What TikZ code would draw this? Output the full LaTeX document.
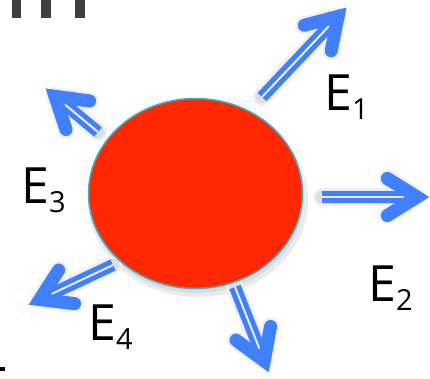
\documentclass[tikz,border=0pt]{standalone}
\usepackage{fontspec}
\setmainfont{Open Sans}
\usetikzlibrary{calc,shapes.geometric}
\definecolor{raybl}{RGB}{64,128,255}
\definecolor{sunred}{RGB}{255,40,0}
\definecolor{suned}{RGB}{60,178,200}
\definecolor{bardk}{RGB}{64,64,64}
\tikzset{
  shaftln/.style={draw=raybl,line width=12pt,line cap=butt},
  stripeln/.style={draw=white!85!gray,line width=2pt,line cap=butt},
  headln/.style={draw=raybl,line width=13pt,line cap=round,line join=miter},
  shadowA/.style={draw=black!6,line width=18pt,line cap=round,line join=round},
  shadowB/.style={draw=black!13,line width=13pt,line cap=round,line join=round},
  lbl/.style={inner sep=0pt,anchor=base west,font=\fontsize{50}{60}\selectfont},
  barbox/.style={fill=bardk,draw=none},
}
\newcommand\sublab[2]{#1\raisebox{-9pt}{\fontsize{29}{30}\selectfont #2}}
\newcommand\drawray[3]{% #1 name, #2 tail, #3 tip
  \coordinate (#1v) at ($(#3)!13pt!(#2)$);
  \coordinate (#1w1) at ($(#1v)!35pt!32:(#2)$);
  \coordinate (#1w2) at ($(#1v)!35pt!-32:(#2)$);
  \coordinate (#1s) at ($(#1v)!8pt!(#2)$);
  \begin{scope}[shift={(2,4)}]
    \draw[shadowA] (#2) -- (#1v) (#1w1) -- (#1v) -- (#1w2);
    \draw[shadowB] (#2) -- (#1v) (#1w1) -- (#1v) -- (#1w2);
  \end{scope}
}
\newcommand\paintray[3]{%
  \draw[shaftln] (#2) -- (#1v);
  \draw[stripeln] (#2) -- (#1s);
  \draw[headln] (#1w1) -- (#1v) -- (#1w2);
}
\begin{document}
\begin{tikzpicture}[x=1pt,y=-1pt]
\useasboundingbox (0,0) rectangle (430,378);
% cropped glyph fragments
\fill[barbox] (12,0) rectangle (21,18);
\fill[barbox] (41,0) rectangle (51,18);
\fill[barbox] (75,0) rectangle (85,18);
\fill[black] (0,367) rectangle (5,371);
% ray coordinates
\coordinate (t1) at (262,97);  \coordinate (p1) at (347,7);
\coordinate (t2) at (322,197); \coordinate (p2) at (430,197);
\coordinate (t3) at (98,132);  \coordinate (p3) at (45,88);
\coordinate (t4) at (113,265); \coordinate (p4) at (28,305);
\coordinate (t5) at (235,287); \coordinate (p5) at (269,373);
% shadows
\fill[black!8] (198,200) ellipse [x radius=110, y radius=97];
\fill[black!14] (197,198) ellipse [x radius=107, y radius=95];
\drawray{a}{t1}{p1}
\drawray{b}{t2}{p2}
\drawray{c}{t3}{p3}
\drawray{d}{t4}{p4}
\drawray{e}{t5}{p5}
% sun
\node[ellipse,fill=sunred,draw=suned,line width=1.5pt,minimum width=214pt,minimum height=190pt,inner sep=0pt] (sun) at (195.5,193.5) {};
\paintray{a}{t1}{p1}
\paintray{b}{t2}{p2}
\paintray{c}{t3}{p3}
\paintray{d}{t4}{p4}
\paintray{e}{t5}{p5}
% labels
\node[lbl] (e1) at (324,110) {\sublab{E}{1}};
\node[lbl] (e2) at (368,301) {\sublab{E}{2}};
\node[lbl] (e3) at (21,203) {\sublab{E}{3}};
\node[lbl] (e4) at (88,340) {\sublab{E}{4}};
\end{tikzpicture}
\end{document}
